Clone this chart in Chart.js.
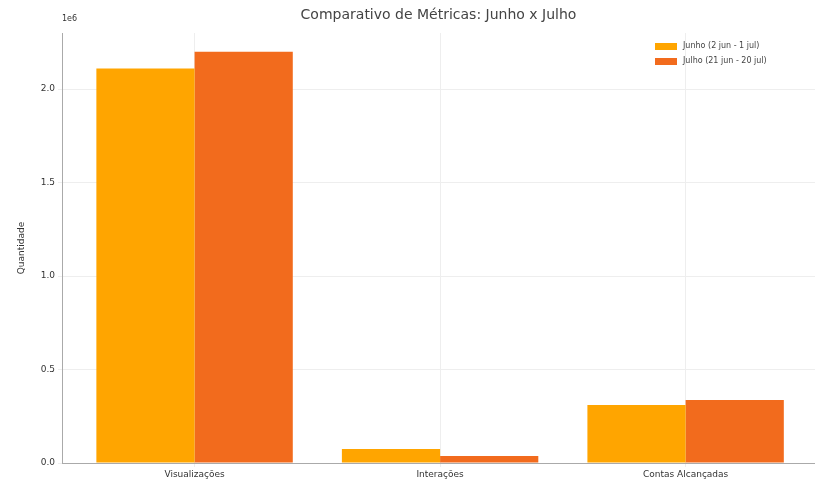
<!DOCTYPE html>
<html>
<head>
<meta charset="utf-8">
<script src="https://cdn.jsdelivr.net/npm/chart.js@4"></script>
<style>
  body { margin: 0; background: #fff; }
  #wrap { width: 815px; height: 488px; }
</style>
</head>
<body>
<div id="wrap"><canvas id="chart"></canvas></div>
<script>
const categorias = ["Visualizações", "Interações", "Contas Alcançadas"];
const junho = [2110000, 75000, 310000];
const julho = [2200000, 37000, 337000];
const nomesSeries = ["Junho (2 jun - 1 jul)", "Julho (21 jun - 20 jul)"];
const coresSeries = ["#FFA500", "#F26B1D"];
const ticksY = [0, 500000, 1000000, 1500000, 2000000];
const tituloGrafico = "Comparativo de Métricas: Junho x Julho";

const fonte = "'DejaVu Sans', sans-serif";

// titulo, 1e6 e legenda desenhados por cima (estilo matplotlib)
const extras = {
    id: "extras",
    afterDraw(chart) {
        const ctx = chart.ctx;
        const area = chart.chartArea;
        ctx.save();
        ctx.fillStyle = "#444";
        ctx.font = "14px " + fonte;
        ctx.textAlign = "center";
        ctx.textBaseline = "middle";
        ctx.fillText(tituloGrafico, (area.left + area.right) / 2, 15);

        ctx.font = "8px " + fonte;
        ctx.textAlign = "left";
        ctx.fillStyle = "#333";
        ctx.fillText("1e6", area.left, 19);

        chart.data.datasets.forEach((ds, i) => {
            const y = 46 + i * 15;
            ctx.fillStyle = ds.backgroundColor;
            ctx.fillRect(655, y - 3, 22, 7);
            ctx.fillStyle = "#444";
            ctx.fillText(ds.label, 683, y);
        });
        ctx.restore();
    }
};

const pontos = (serie) => serie.map((v, i) => ({ x: i, y: v }));

new Chart(document.getElementById("chart"), {
    type: "bar",
    data: {
        datasets: [
            { label: nomesSeries[0], data: pontos(junho), backgroundColor: coresSeries[0] },
            { label: nomesSeries[1], data: pontos(julho), backgroundColor: coresSeries[1] },
        ],
    },
    options: {
        responsive: true,
        maintainAspectRatio: false,
        animation: false,
        layout: { padding: { top: 33, right: 0, left: 0, bottom: 0 } },
        plugins: {
            legend: { display: false },
            title: { display: false },
            tooltip: { enabled: false },
        },
        datasets: {
            bar: { categoryPercentage: 0.8, barPercentage: 1.0 },
        },
        scales: {
            x: {
                type: "linear",
                offset: false,
                min: -0.54,
                max: 2.527,
                grid: { color: "#eeeeee", tickLength: 4, offset: false },
                border: { color: "#aaaaaa" },
                ticks: {
                    color: "#333",
                    font: { size: 9, family: fonte },
                    padding: 2,
                    autoSkip: false,
                    maxRotation: 0,
                    callback: (v) => categorias[v],
                },
                afterBuildTicks(scale) {
                    scale.ticks = categorias.map((c, i) => ({ value: i }));
                },
                afterFit(scale) { scale.height = 25; },
            },
            y: {
                min: 0,
                max: 2300000,
                grid: { color: "#eeeeee", tickLength: 4 },
                border: { color: "#aaaaaa" },
                ticks: {
                    color: "#333",
                    font: { size: 9, family: fonte },
                    padding: 3,
                    autoSkip: false,
                    callback: (v) => (v / 1e6).toFixed(1),
                },
                afterBuildTicks(scale) {
                    scale.ticks = ticksY.map((v) => ({ value: v }));
                },
                title: {
                    display: true,
                    text: "Quantidade",
                    color: "#333",
                    font: { size: 9, family: fonte },
                    padding: { top: 16, bottom: 0 },
                },
                afterFit(scale) { scale.width = 62; },
            },
        },
    },
    plugins: [extras],
});
</script>
</body>
</html>
